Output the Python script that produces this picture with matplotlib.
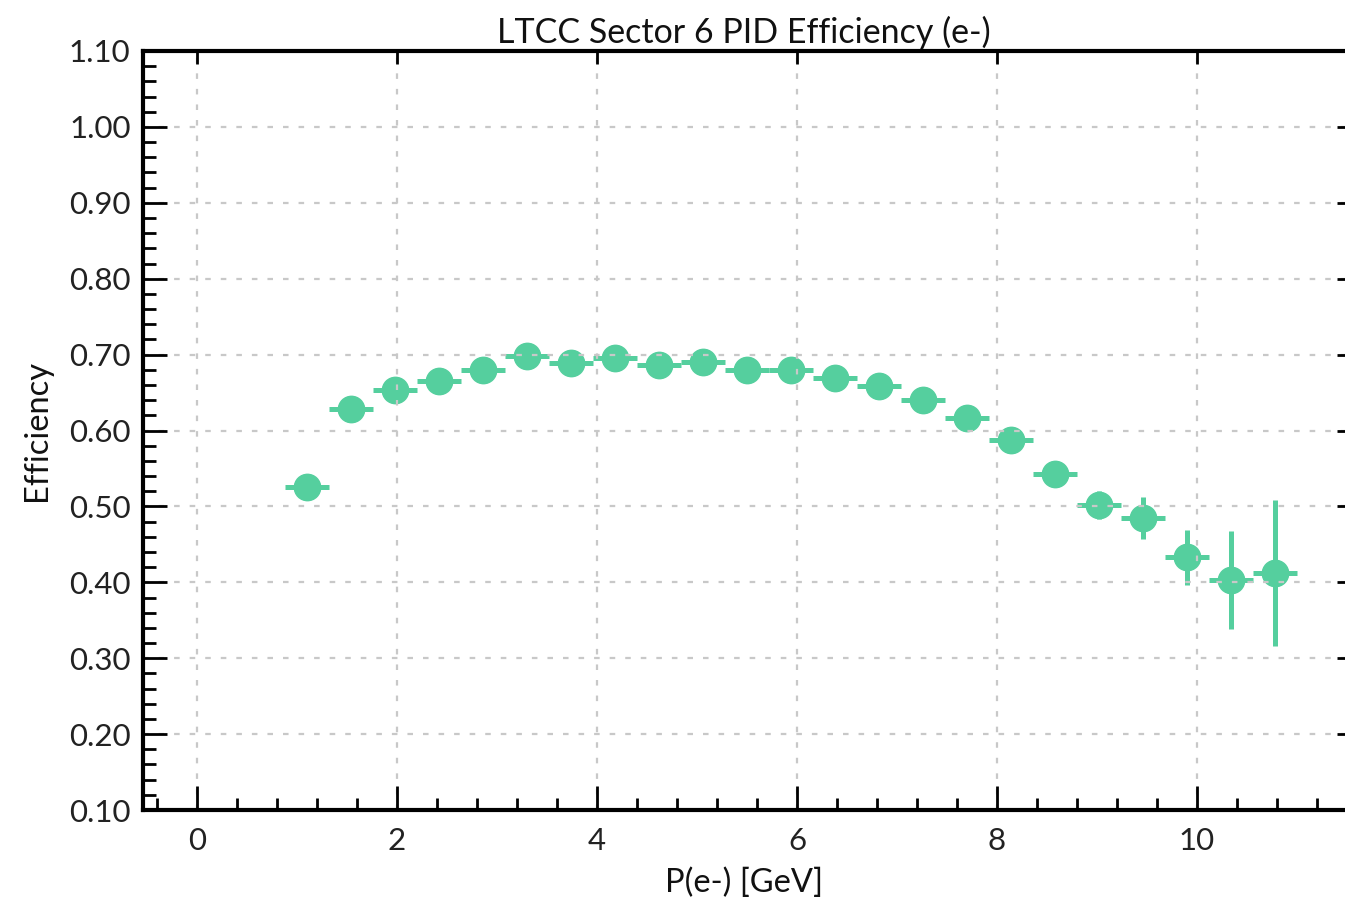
import matplotlib
matplotlib.use('Agg')
import matplotlib.pyplot as plt
from matplotlib.ticker import MultipleLocator, FormatStrFormatter
import numpy as np

# bin centres of P(e-) [GeV] and efficiency per bin
momentum = [1.10, 1.54, 1.98, 2.42, 2.86, 3.30, 3.74, 4.18, 4.62, 5.06, 5.50, 5.94,
            6.38, 6.82, 7.26, 7.70, 8.14, 8.58, 9.02, 9.46, 9.90, 10.34, 10.78]
efficiency = [0.526, 0.628, 0.654, 0.665, 0.680, 0.698, 0.689, 0.695, 0.686, 0.690,
              0.680, 0.680, 0.669, 0.658, 0.640, 0.616, 0.588, 0.543, 0.502, 0.485,
              0.433, 0.403, 0.412]
eff_err = [0.004, 0.003, 0.003, 0.003, 0.003, 0.003, 0.003, 0.003, 0.004, 0.004,
           0.004, 0.005, 0.006, 0.007, 0.008, 0.009, 0.011, 0.014, 0.018, 0.028,
           0.036, 0.064, 0.096]
bin_half = 0.22

plt.rcParams['font.family'] = ['Lato', 'DejaVu Sans']

fig = plt.figure(figsize=(13.45, 9.07), dpi=100)
ax = fig.add_axes([0.1063, 0.1069, 0.8937, 0.8369])

color = '#55cf9e'
ax.errorbar(momentum, efficiency, xerr=bin_half, yerr=eff_err, fmt='o',
            color=color, markersize=19, elinewidth=3.6, capsize=0, zorder=2)

ax.set_xlim(-0.54, 11.48)
ax.set_ylim(0.10, 1.10)

ax.xaxis.set_major_locator(MultipleLocator(2))
ax.xaxis.set_minor_locator(MultipleLocator(0.4))
ax.yaxis.set_major_locator(MultipleLocator(0.1))
ax.yaxis.set_minor_locator(MultipleLocator(0.02))
ax.yaxis.set_major_formatter(FormatStrFormatter('%.2f'))

ax.set_axisbelow(False)
ax.grid(True, which='major', color='#c8c8c8', linestyle=(0, (2.5, 4.5)), linewidth=1.6)

for side in ['left', 'bottom', 'top']:
    ax.spines[side].set_linewidth(3)
    ax.spines[side].set_zorder(4)
ax.spines['right'].set_visible(False)

ax.tick_params(which='major', direction='in', length=17, width=2, labelsize=22.5,
               labelcolor='#222222', pad=9)
ax.tick_params(which='minor', direction='in', length=9, width=2)
ax.tick_params(axis='x', which='both', top=True)
ax.tick_params(axis='x', which='major', pad=12)
ax.tick_params(axis='y', which='major', right=True)

# top ticks are short, no minor ticks on top/right
for t in ax.xaxis.get_major_ticks():
    t.tick2line.set_markersize(9)
for t in ax.xaxis.get_minor_ticks():
    t.tick2line.set_visible(False)
for t in ax.yaxis.get_major_ticks():
    t.tick2line.set_markersize(6)

ax.set_title('LTCC Sector 6 PID Efficiency (e-)', fontsize=24.5, pad=6, color='#111111')
ax.set_xlabel('P(e-) [GeV]', fontsize=23.5, labelpad=9, color='#111111')
ax.set_ylabel('Efficiency', fontsize=23.5, labelpad=12, color='#111111')

fig.savefig('out.png', dpi=100)
